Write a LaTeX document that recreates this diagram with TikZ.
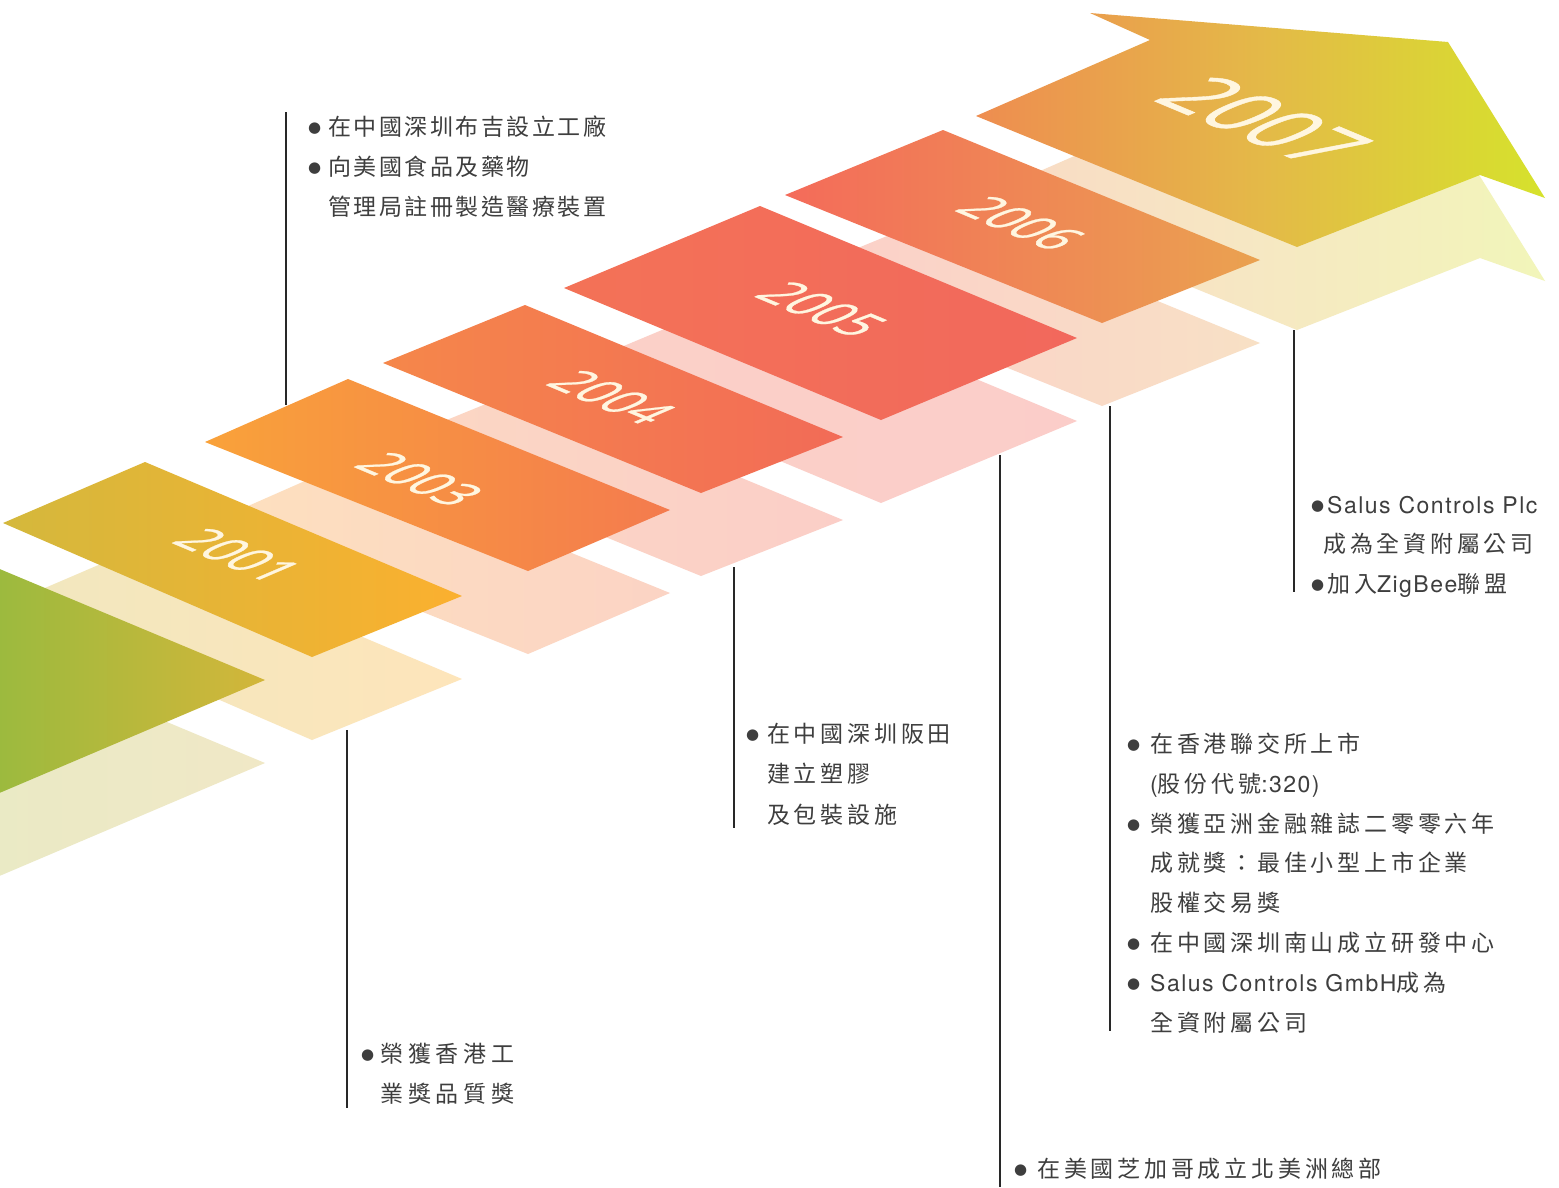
\documentclass[tikz,border=0pt]{standalone}
\usepackage{fontspec}
\newfontfamily\cjk[LetterSpace=16.5]{Noto Sans CJK TC}
\newfontfamily\cjkb[LetterSpace=21]{Noto Sans CJK TC}
\newfontfamily\cjkw[LetterSpace=11]{Noto Sans CJK TC}
\newfontfamily\lat[LetterSpace=6.5]{TeX Gyre Heros}
\newfontfamily\bulfont{DejaVu Sans}
\newfontfamily\yrfont[FakeBold=0.8]{Open Sans}
\definecolor{tailA}{RGB}{80,192,68}
\definecolor{tailB}{RGB}{211,182,58}
\definecolor{tailSa}{RGB}{226,236,196}
\definecolor{tailSb}{RGB}{240,232,198}
\definecolor{cAa}{RGB}{212,184,60}
\definecolor{cAb}{RGB}{251,176,47}
\definecolor{cCa}{RGB}{249,162,58}
\definecolor{cCb}{RGB}{244,123,78}
\definecolor{cDa}{RGB}{245,135,74}
\definecolor{cDb}{RGB}{242,107,87}
\definecolor{cEa}{RGB}{243,114,87}
\definecolor{cEb}{RGB}{242,104,92}
\definecolor{cFa}{RGB}{244,107,90}
\definecolor{cFb}{RGB}{234,162,80}
\definecolor{cGa}{RGB}{238,141,80}
\definecolor{cGm}{RGB}{228,185,72}
\definecolor{cGb}{RGB}{214,226,44}
\definecolor{yrcol}{RGB}{255,246,224}
\definecolor{txtcol}{RGB}{62,62,62}
\definecolor{linecol}{RGB}{40,40,40}
\newcommand\bul[1]{\makebox[#1][l]{\raisebox{2.5pt}{\bulfont\fontsize{15}{15}\selectfont ●}}}
\newcommand\ind[1]{\hspace*{#1}}
\begin{document}
\begin{tikzpicture}[x=1pt,y=-1pt,
  conn/.style={line width=2.8pt, draw=linecol},
  txt/.style={anchor=base west, align=left, text=txtcol, inner sep=0pt},
  yearlbl/.style={text=yrcol, inner sep=0pt, transform shape,
     cm={0.9226,-0.3859,1.10,0.47,(0,0)}}]
\useasboundingbox (0,0) rectangle (1559,1187);
\fill[white] (0,0) rectangle (1559,1187);
\begin{scope}
\clip (0,0) rectangle (1559,1187);
% ---------- shadows ----------
\begin{scope}[shift={(0,83)}]
\shade[left color=tailSa,right color=tailSb] (-368,681) -- (-53,547) -- (265,680) -- (-50,814) -- cycle;
\shade[left color=cAa!33,right color=cAb!33] (3,523) -- (145,462) -- (462,596) -- (312,657) -- cycle;
\shade[left color=cCa!33,right color=cCb!33] (205,442) -- (348,379) -- (670,510) -- (528,571) -- cycle;
\shade[left color=cDa!33,right color=cDb!33] (383,363) -- (525,305) -- (843,437) -- (701,493) -- cycle;
\shade[left color=cEa!33,right color=cEb!33] (564,288) -- (760,206) -- (1077,338) -- (881,420) -- cycle;
\shade[left color=cFa!33,right color=cFb!33] (785,195) -- (943,130) -- (1260,260) -- (1102,323) -- cycle;
\shade[left color=cGa!33,right color=cGb!33,middle color=cGm!33] (976,116) -- (1150,40) -- (1090,13) -- (1448,42) -- (1545,198) -- (1480,175) -- (1297,247) -- cycle;
\end{scope}
% ---------- blocks ----------
\shade[left color=tailA,right color=tailB] (-368,681) -- (-53,547) -- (265,680) -- (-50,814) -- cycle;
\shade[left color=cAa,right color=cAb] (3,523) -- (145,462) -- (462,596) -- (312,657) -- cycle;
\shade[left color=cCa,right color=cCb] (205,442) -- (348,379) -- (670,510) -- (528,571) -- cycle;
\shade[left color=cDa,right color=cDb] (383,363) -- (525,305) -- (843,437) -- (701,493) -- cycle;
\shade[left color=cEa,right color=cEb] (564,288) -- (760,206) -- (1077,338) -- (881,420) -- cycle;
\shade[left color=cFa,right color=cFb] (785,195) -- (943,130) -- (1260,260) -- (1102,323) -- cycle;
\shade[left color=cGa,right color=cGb,middle color=cGm] (976,116) -- (1150,40) -- (1090,13) -- (1448,42) -- (1545,198) -- (1480,175) -- (1297,247) -- cycle;
\end{scope}
% ---------- year labels ----------
\node[yearlbl, font=\yrfont\fontsize{47}{47}\selectfont] (y2001) at (238,555) {2001};
\node[yearlbl, font=\yrfont\fontsize{47}{47}\selectfont] (y2003) at (420,479) {2003};
\node[yearlbl, font=\yrfont\fontsize{47}{47}\selectfont] (y2004) at (612,397) {2004};
\node[yearlbl, font=\yrfont\fontsize{48}{48}\selectfont] (y2005) at (822,309) {2005};
\node[yearlbl, font=\yrfont\fontsize{47}{47}\selectfont] (y2006) at (1021,223) {2006};
\node[yearlbl, font=\yrfont\fontsize{78}{78}\selectfont] (y2007) at (1264,121) {2007};
% ---------- connector lines ----------
\coordinate (l1a) at (286,112);  \coordinate (l1b) at (286,405);
\coordinate (l2a) at (347,730);  \coordinate (l2b) at (347,1108);
\coordinate (l3a) at (734,567);  \coordinate (l3b) at (734,828);
\coordinate (l4a) at (1000,455); \coordinate (l4b) at (1000,1187);
\coordinate (l5a) at (1110,406); \coordinate (l5b) at (1110,1031);
\coordinate (l6a) at (1294,330); \coordinate (l6b) at (1294,592);
\draw[conn] (l1a) -- (l1b);
\draw[conn] (l2a) -- (l2b);
\draw[conn] (l3a) -- (l3b);
\draw[conn] (l4a) -- (l4b);
\draw[conn] (l5a) -- (l5b);
\draw[conn] (l6a) -- (l6b);
% ---------- texts (anchor = baseline of last line) ----------
\node[txt, font=\cjkw\fontsize{23}{40}\selectfont] (t1) at (308,215)
 {\bul{20pt}在中國深圳布吉設立工廠\\
  \bul{20pt}向美國食品及藥物\\
  \ind{20pt}管理局註冊製造醫療裝置};
\node[txt, font=\cjkb\fontsize{23}{40}\selectfont] (t2) at (361,1102)
 {\bul{19pt}榮獲香港工\\
  \ind{19pt}業獎品質獎};
\node[txt, font=\cjk\fontsize{23}{40.5}\selectfont] (t3) at (746,823)
 {\bul{21pt}在中國深圳阪田\\
  \ind{21pt}建立塑膠\\
  \ind{21pt}及包裝設施};
\node[txt, font=\cjk\fontsize{23}{40}\selectfont] (t4) at (1014,1177)
 {\bul{23pt}在美國芝加哥成立北美洲總部};
\node[txt, font=\cjk\fontsize{23}{39.8}\selectfont] (t5) at (1127,1031)
 {\bul{23pt}在香港聯交所上市\\
  \ind{23pt}{\lat (}股份代號{\lat :320)}\\
  \bul{23pt}榮獲亞洲金融雜誌二零零六年\\
  \ind{23pt}成就獎：最佳小型上市企業\\
  \ind{23pt}股權交易獎\\
  \bul{23pt}在中國深圳南山成立研發中心\\
  \bul{23pt}{\lat Salus Controls GmbH}成為\\
  \ind{23pt}全資附屬公司};
\node[txt, font=\cjk\fontsize{23}{39.5}\selectfont] (t6) at (1311,592)
 {\bul{16pt}{\lat Salus Controls Plc}\\
  \ind{12pt}成為全資附屬公司\\
  \bul{16pt}加入{\lat ZigBee}聯盟};
\end{tikzpicture}
\end{document}
